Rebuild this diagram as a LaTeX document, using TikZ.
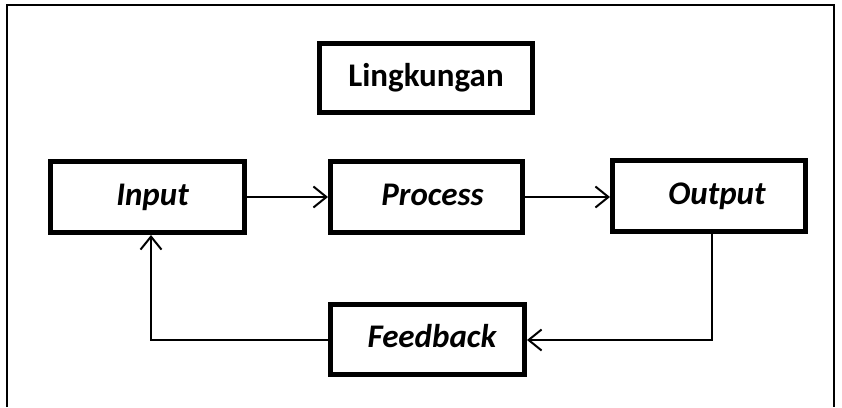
\documentclass[tikz,border=0pt]{standalone}
\usepackage{fontspec}
\setmainfont{Carlito}
\usetikzlibrary{arrows.meta}
\begin{document}
\begin{tikzpicture}[x=1pt,y=-1pt,
  box/.style={draw, line width=5pt, minimum width=194pt, minimum height=71pt, inner sep=0pt,
    text height=22pt, text depth=6pt,
    font=\fontsize{33}{38}\selectfont\bfseries\itshape},
  envbox/.style={box, minimum width=213pt, minimum height=69pt, font=\fontsize{33}{38}\selectfont\bfseries},
  frame/.style={line width=2pt},
  conn/.style={line width=2pt, -{Straight Barb[length=13pt,width=21pt,line width=2pt]}}]
\useasboundingbox (0,0) rectangle (842,407);
\draw[frame] (7,407) -- (7,5) -- (834,5) -- (834,407);

\node[envbox] (env) at (426,78) {Lingkungan};
\node[box] (in) at (147.5,197) {\hspace*{10pt}Input};
\node[box, minimum width=192pt] (proc) at (426.5,197) {\hspace*{12pt}Process};
\node[box, minimum width=193pt] (out) at (709,196) {\hspace*{16pt}Output};
\node[box, minimum height=70pt] (fb) at (427.5,339.5) {\hspace*{9pt}Feedback};

\coordinate (outdown) at (712,340);
\coordinate (inback) at (151,340);

\draw[conn] (in.east) -- (proc.west);
\draw[conn] (proc.east) -- (out.west |- proc.east);
\draw[conn] (outdown |- out.south) -- (outdown) -- (fb.east |- outdown);
\draw[conn] (fb.west |- inback) -- (inback) -- (inback |- in.south);
\end{tikzpicture}
\end{document}
